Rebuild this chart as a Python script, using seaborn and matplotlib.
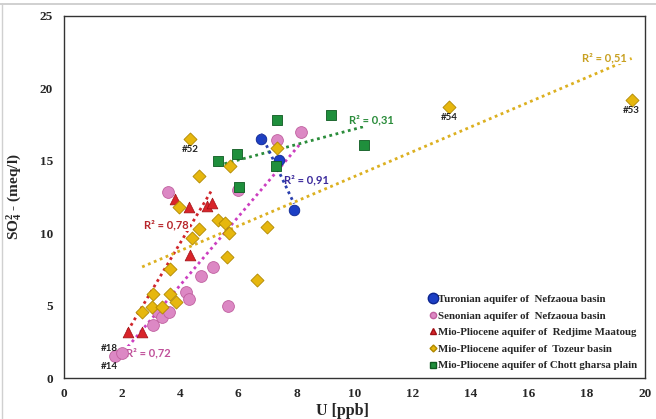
import matplotlib
matplotlib.use("Agg")
import matplotlib.pyplot as plt
import seaborn as sns
import numpy as np
from matplotlib.lines import Line2D
from matplotlib.ticker import MultipleLocator

# ---------------- data ----------------
turonian_u = [6.78, 7.40, 7.92]
turonian_so4 = [16.5, 15.05, 11.6]

senonian_u = [1.77, 2.01, 3.08, 3.22, 3.36, 3.62, 4.21, 4.31, 4.70, 5.14, 5.64, 3.59, 5.98, 7.32, 8.15]
senonian_so4 = [1.52, 1.72, 3.63, 4.55, 4.21, 4.57, 5.95, 5.43, 7.05, 7.67, 5.0, 12.87, 12.98, 16.44, 17.0]

redjime_u = [2.19, 2.67, 4.34, 3.82, 4.30, 4.92, 5.09]
redjime_so4 = [3.18, 3.18, 8.5, 12.34, 11.84, 11.9, 12.06]

tozeur_u = [4.34, 4.66, 5.71, 7.32, 3.96, 5.31, 5.54, 4.66, 4.40, 5.67, 6.98, 5.60, 6.65,
            3.64, 3.08, 3.65, 3.84, 3.04, 3.36, 2.69, 13.25, 19.54]
tozeur_so4 = [16.53, 13.97, 14.64, 15.86, 11.8, 10.93, 10.67, 10.31, 9.67, 10.04, 10.4, 8.33, 6.77,
              7.5, 5.82, 5.8, 5.27, 4.92, 4.9, 4.55, 18.74, 19.2]

chott_u = [7.32, 9.18, 5.31, 5.94, 7.29, 6.03, 10.34]
chott_so4 = [17.82, 18.16, 14.99, 15.47, 14.64, 13.21, 16.11]

legend_labels = ["Turonian aquifer of  Nefzaoua basin",
                 "Senonian aquifer of  Nefzaoua basin",
                 "Mio-Pliocene aquifer of  Redjime Maatoug",
                 "Mio-Pliocene aquifer of  Tozeur basin",
                 "Mio-Pliocene aquifer of Chott gharsa plain"]

r2_labels = ["R² = 0,91", "R² = 0,72", "R² = 0,78", "R² = 0,51", "R² = 0,31"]
r2_u = [8.35, 2.92, 3.53, 18.62, 10.58]
r2_so4 = [13.67, 1.75, 10.57, 22.12, 17.86]

sample_labels = ["#52", "#54", "#53", "#18", "#14"]
sample_u = [4.34, 13.25, 19.54, 1.77, 1.77]
sample_so4 = [16.53, 18.74, 19.2, 1.52, 1.52]

# ---------------- style ----------------
sns.set_style("white")
plt.rcParams["mathtext.fontset"] = "custom"
plt.rcParams["mathtext.rm"] = "Liberation Serif:bold"
plt.rcParams["mathtext.bf"] = "Liberation Serif:bold"
plt.rcParams["mathtext.it"] = "Liberation Serif:bold"
serif = ["Liberation Serif", "DejaVu Serif"]
sans = ["Lato", "DejaVu Sans"]

c_blue = "#1c3fc4"
c_pink = "#dc88c4"
c_red = "#d8242a"
c_yellow = "#e6b70e"
c_green = "#1f8f3c"

line_blue = "#2a3fae"
line_pink = "#cc3fc0"
line_red = "#d0252b"
line_yellow = "#dcb020"
line_green = "#2a8c3a"
r2_colors = ["#3b2a9c", "#c0509a", "#b8262b", "#c8a020", "#2a8c3a"]

fig = plt.figure(figsize=(6.56, 4.19), dpi=100)
ax = fig.add_axes([64 / 656, 1 - 378 / 419, (645 - 64) / 656, (378 - 16) / 419])

# regression lines (fits computed from data)
line_kw = dict(linestyle=(0, (1, 1.3)), linewidth=2.0)
sns.regplot(x=senonian_u, y=senonian_so4, ax=ax, scatter=False, ci=None, truncate=True,
            color=line_pink, line_kws=line_kw)
sns.regplot(x=redjime_u, y=redjime_so4, ax=ax, scatter=False, ci=None, truncate=True,
            color=line_red, line_kws=line_kw)
sns.regplot(x=tozeur_u, y=tozeur_so4, ax=ax, scatter=False, ci=None, truncate=True,
            color=line_yellow, line_kws=line_kw)
sns.regplot(x=chott_u, y=chott_so4, ax=ax, scatter=False, ci=None, truncate=True,
            color=line_green, line_kws=line_kw)

# scatter points
sns.scatterplot(x=senonian_u, y=senonian_so4, ax=ax, marker="o", s=72, color=c_pink,
                edgecolor="#c0609f", linewidth=0.6, zorder=3)
sns.scatterplot(x=turonian_u, y=turonian_so4, ax=ax, marker="o", s=58, color=c_blue,
                edgecolor="#0c2590", linewidth=0.6, zorder=3)
sns.regplot(x=turonian_u, y=turonian_so4, ax=ax, scatter=False, ci=None, truncate=True,
            color=line_blue, line_kws=dict(linestyle=(0, (1, 1.3)), linewidth=2.0, zorder=3.5))
sns.scatterplot(x=redjime_u, y=redjime_so4, ax=ax, marker="^", s=60, color=c_red,
                edgecolor="#a01015", linewidth=0.5, zorder=4)
sns.scatterplot(x=tozeur_u, y=tozeur_so4, ax=ax, marker="D", s=44, color=c_yellow,
                edgecolor="#b08800", linewidth=0.6, zorder=5)
sns.scatterplot(x=chott_u, y=chott_so4, ax=ax, marker="s", s=42, color=c_green,
                edgecolor="#0d5a20", linewidth=0.6, zorder=6)

# R² labels
for lab, u, so, col in zip(r2_labels, r2_u, r2_so4, r2_colors):
    ax.text(u, so, lab, color=col, fontsize=8, fontweight="bold", family=sans,
            ha="center", va="center", zorder=2.5,
            bbox=dict(facecolor="white", edgecolor="none", pad=0.5))

# sample labels
offsets = [(0, -0.75), (0, -0.75), (0, -0.75), (-0.2, 0.55), (-0.2, -0.75)]
for lab, u, so, (dx, dy) in zip(sample_labels, sample_u, sample_so4, offsets):
    ax.text(u + dx, so + dy, lab, ha="center", va="center", fontsize=7,
            fontweight="bold", family=sans, color="#222222", zorder=7)

# axes
ax.set_xlim(0, 20)
ax.set_ylim(0, 25)
ax.xaxis.set_major_locator(MultipleLocator(2))
ax.xaxis.set_minor_locator(MultipleLocator(0.5))
ax.yaxis.set_major_locator(MultipleLocator(5))
ax.yaxis.set_minor_locator(MultipleLocator(1))
ax.tick_params(axis="x", which="major", direction="inout", length=6, width=1, color="#333333")
ax.tick_params(axis="x", which="minor", direction="in", length=3, width=0.8, color="#555555")
ax.tick_params(axis="y", which="major", direction="out", length=4, width=1, color="#888888")
ax.tick_params(axis="y", which="minor", direction="in", length=2.5, width=0.8, color="#aaaaaa")
ax.tick_params(axis="both", which="major", labelsize=9.5, pad=4)
for lab in ax.get_xticklabels() + ax.get_yticklabels():
    lab.set_family(serif)
    lab.set_fontweight("bold")
for sp in ax.spines.values():
    sp.set_color("#333333")
    sp.set_linewidth(1.0)

ax.set_xlabel("U [ppb]", fontsize=11.5, fontweight="bold", family=serif)
ax.set_ylabel(r"SO$_4^{2}$ - (meq/l)", fontsize=11, fontweight="bold", family=serif)
ax.xaxis.set_label_coords(0.48, -0.068)
ax.yaxis.set_label_coords(-0.068, 0.5)

# legend
handles = [
    Line2D([], [], marker="o", linestyle="", markersize=7.5, color=c_blue, markeredgecolor="#0c2590"),
    Line2D([], [], marker="o", linestyle="", markersize=4.5, color=c_pink, markeredgecolor="#c0609f"),
    Line2D([], [], marker="^", linestyle="", markersize=4.5, color=c_red, markeredgecolor="#a01015"),
    Line2D([], [], marker="D", linestyle="", markersize=3.5, color=c_yellow, markeredgecolor="#b08800"),
    Line2D([], [], marker="s", linestyle="", markersize=4.5, color=c_green, markeredgecolor="#0d5a20"),
]
leg = ax.legend(handles, legend_labels, loc="lower right", bbox_to_anchor=(1.0, 0.0),
                frameon=False, handlelength=0.6, handletextpad=0.2, labelspacing=0.65,
                borderaxespad=0.3, prop=dict(family=serif, weight="bold", size=7.8))

# screenshot frame lines
fig.add_artist(Line2D([0, 1], [1 - 4 / 419, 1 - 4 / 419], color="#c8c8c8", linewidth=1.2))
fig.add_artist(Line2D([2 / 656, 2 / 656], [0, 1 - 4 / 419], color="#d0d0d0", linewidth=1.0))

fig.savefig("out.png", dpi=100)
